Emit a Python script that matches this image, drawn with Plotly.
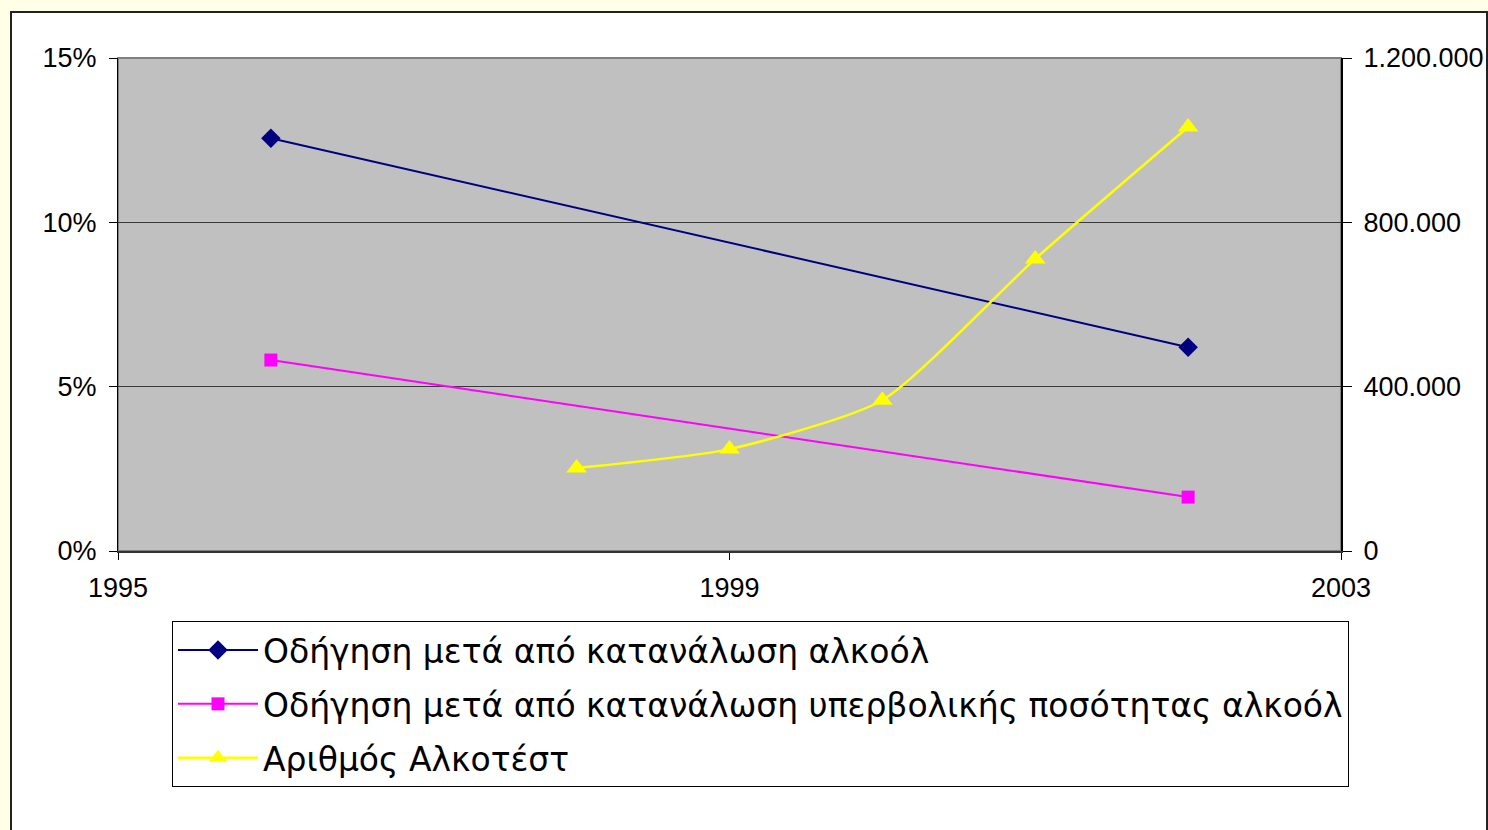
import plotly.graph_objects as go

years_a = [1996, 2002]
drink_drive = [12.56, 6.2]
excess_drive = [5.81, 1.64]
years_b = [1998, 1999, 2000, 2001, 2002]
alcotests = [202000, 248000, 367000, 711000, 1032000]

names = ["Οδήγηση μετά από κατανάλωση αλκοόλ",
         "Οδήγηση μετά από κατανάλωση υπερβολικής ποσότητας αλκοόλ",
         "Αριθμός Αλκοτέστ"]

x_ticks = [1995, 1999, 2003]
y_ticks = [0, 5, 10, 15]
y_tick_text = ["0%", "5%", "10%", "15%"]
y2_ticks = [0, 400000, 800000, 1200000]

W, H = 1488, 830
L, R, T, B = 118, 1341, 58, 551
pw, ph = R - L, B - T

def px(x):
    return (x - L) / pw

def py(y):
    return (B - y) / ph

fig = go.Figure()
fig.add_trace(go.Scatter(x=years_a, y=drink_drive, name=names[0], mode="lines+markers",
                         legendgroup="a",
                         line=dict(color="#000080", width=2),
                         marker=dict(symbol="diamond", size=15, color="#000080")))
fig.add_trace(go.Scatter(x=years_a, y=excess_drive, name=names[1], mode="lines+markers",
                         legendgroup="b",
                         line=dict(color="#FF00FF", width=2),
                         marker=dict(symbol="square", size=13, color="#FF00FF")))
fig.add_trace(go.Scatter(x=years_b, y=alcotests, name=names[2], mode="lines+markers", yaxis="y2",
                         legendgroup="c",
                         line=dict(color="#FFFF00", width=2.5, shape="spline", smoothing=0.6),
                         marker=dict(symbol="triangle-up", size=18, color="#FFFF00")))

tickfont = dict(family="Liberation Sans, Arial, sans-serif", size=27, color="black")

fig.update_layout(
    width=W, height=H,
    margin=dict(l=L, r=W - R, t=T, b=H - B, autoexpand=False),
    paper_bgcolor="#FFFFE8",
    plot_bgcolor="#C0C0C0",
    showlegend=True,
    xaxis=dict(range=[1995, 2003], tickvals=x_ticks, ticks="outside", ticklen=7,
               tickcolor="black", showgrid=False, showline=True, linecolor="#333333", linewidth=2,
               tickfont=tickfont, zeroline=False, fixedrange=True, ticklabelstandoff=5),
    yaxis=dict(range=[0, 15], tickvals=y_ticks, ticktext=y_tick_text, ticks="outside", ticklen=8,
               tickcolor="black", showgrid=True, gridcolor="#3a3a3a", gridwidth=1,
               showline=True, linecolor="black", linewidth=1, tickfont=tickfont,
               zeroline=False, ticklabelstandoff=7),
    yaxis2=dict(range=[0, 1200000], tickvals=y2_ticks, tickformat=",d",
                overlaying="y", side="right", ticks="outside", ticklen=9, tickcolor="black",
                showgrid=False, showline=True, linecolor="black", linewidth=2,
                tickfont=tickfont, zeroline=False, ticklabelstandoff=6),
    separators=",.",
    legend=dict(x=px(172), y=py(621), xanchor="left", yanchor="top",
                bgcolor="white", bordercolor="black", borderwidth=1,
                font=dict(family="DejaVu Sans, sans-serif", size=33, color="black"),
                itemwidth=80, tracegroupgap=8),
    shapes=[
        dict(type="rect", xref="paper", yref="paper", x0=px(11), x1=px(1487), y0=py(845), y1=py(12),
             fillcolor="white", line=dict(color="#222222", width=2), layer="below"),
        dict(type="rect", xref="paper", yref="paper", x0=0, x1=1, y0=0, y1=1,
             fillcolor="#C0C0C0", line=dict(color="#808080", width=2), layer="below"),
    ],
)

fig.write_html("out.html", config={"displayModeBar": False},
               post_script="document.body.style.margin='0';document.body.style.background='#FFFFE8';")
